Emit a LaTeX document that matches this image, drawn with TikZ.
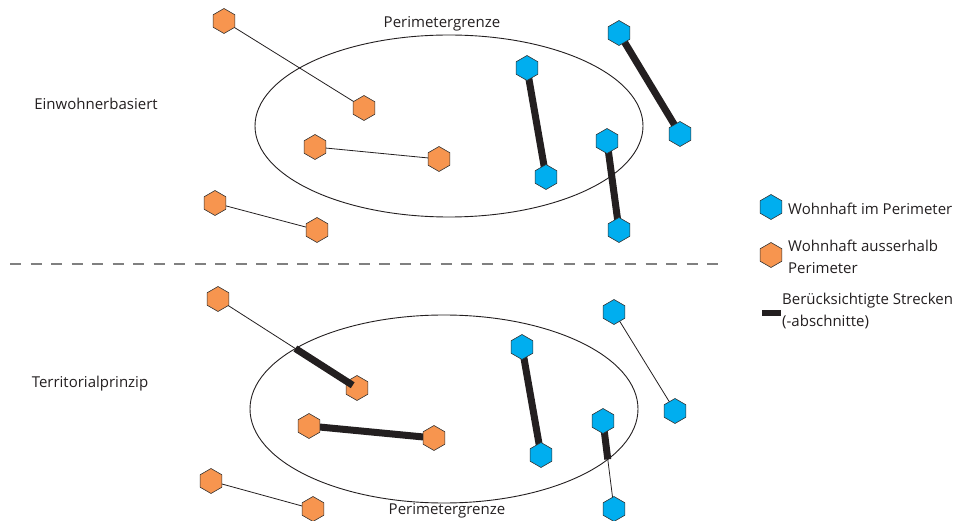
\documentclass[tikz,border=0pt]{standalone}
\usepackage{fontspec}
\setmainfont{Open Sans}
\usetikzlibrary{shapes.geometric,intersections,backgrounds,calc}
\definecolor{hexblue}{HTML}{00AEEF}
\definecolor{hexorange}{HTML}{F7954F}
\definecolor{hexedge}{HTML}{333333}
\definecolor{barcol}{HTML}{231F20}
\tikzset{
  hexbase/.style={regular polygon, regular polygon sides=6, shape border rotate=30,
    minimum size=25pt, inner sep=0pt, draw=hexedge, line width=0.6pt},
  bluehex/.style={hexbase, fill=hexblue},
  orangehex/.style={hexbase, fill=hexorange},
  thinlink/.style={draw=barcol, line width=0.8pt},
  thicklink/.style={draw=barcol, line width=7pt},
  perim/.style={draw=barcol, line width=0.9pt},
  lbl/.style={font=\fontsize{15}{22}\selectfont, text=barcol, inner sep=0pt},
}
\begin{document}
\begin{tikzpicture}[x=1pt,y=-1pt]
\useasboundingbox (0,0) rectangle (970,521);

% ---------- top: Einwohnerbasiert ----------
\draw[perim, name path=ellA] (449,126) ellipse [x radius=194, y radius=91];
\node[lbl] (pgA) at (442,24) {Perimetergrenze};
\node[lbl] (einw) at (96,104) {Einwohnerbasiert};

\node[orangehex] (a1) at (224,21) {};
\node[orangehex] (a2) at (364,108) {};
\node[orangehex] (b1) at (315,147) {};
\node[orangehex] (b2) at (439,159) {};
\node[orangehex] (c1) at (215,203) {};
\node[orangehex] (c2) at (317,230) {};
\node[bluehex] (d1) at (527,68) {};
\node[bluehex] (d2) at (546,177) {};
\node[bluehex] (e1) at (619,33) {};
\node[bluehex] (e2) at (680,134) {};
\node[bluehex] (f1) at (607,141) {};
\node[bluehex] (f2) at (619,230) {};

\begin{pgfonlayer}{background}
\draw[thinlink] (a1.center) -- (a2.center);
\draw[thinlink] (b1.center) -- (b2.center);
\draw[thinlink] (c1.center) -- (c2.center);
\draw[thicklink] (d1.center) -- (d2.center);
\draw[thicklink] (e1.center) -- (e2.center);
\draw[thicklink] (f1.center) -- (f2.center);
\end{pgfonlayer}

% ---------- separator ----------
\coordinate (sepL) at (10,264);
\coordinate (sepR) at (725,264);
\draw[draw=black!50, line width=2.6pt, dash pattern=on 11pt off 9.5pt] (sepL) -- (sepR);

% ---------- bottom: Territorialprinzip ----------
\draw[perim, name path=ellB] (444,409) ellipse [x radius=194, y radius=94];
\node[lbl] (pgB) at (447,511) {Perimetergrenze};
\node[lbl] (terr) at (90,384) {Territorialprinzip};

\node[orangehex] (g1) at (218,299) {};
\node[orangehex] (g2) at (357,388) {};
\node[orangehex] (h1) at (309,426) {};
\node[orangehex] (h2) at (434,438) {};
\node[orangehex] (i1) at (211,481) {};
\node[orangehex] (i2) at (313,509) {};
\node[bluehex] (j1) at (522,347) {};
\node[bluehex] (j2) at (541,455) {};
\node[bluehex] (k1) at (614,312) {};
\node[bluehex] (k2) at (675,411) {};
\node[bluehex] (l1) at (603,421) {};
\node[bluehex] (l2) at (614,509) {};

\path[name path=gline] (g1.center) -- (g2.center);
\path[name path=lline] (l1.center) -- (l2.center);
\path[name intersections={of=ellB and gline, by=gx}];
\path[name intersections={of=ellB and lline, by=lx}];

\begin{pgfonlayer}{background}
\draw[thinlink] (g1.center) -- (gx);
\draw[thicklink] (h1.center) -- (h2.center);
\draw[thinlink] (i1.center) -- (i2.center);
\draw[thicklink] (j1.center) -- (j2.center);
\draw[thinlink] (k1.center) -- (k2.center);
\draw[thicklink] (l1.center) -- (lx);
\draw[thinlink] (lx) -- (l2.center);
\end{pgfonlayer}
\draw[thicklink] (gx) -- ($(gx)!0.93!(g2.center)$);

% ---------- legend ----------
\node[bluehex] (legB) at (771,207) {};
\node[lbl, anchor=west] (legBt) at (788,209) {Wohnhaft im Perimeter};
\node[orangehex] (legO) at (771,255) {};
\node[lbl, anchor=west, align=left] (legOt) at (788,257) {Wohnhaft ausserhalb\\Perimeter};
\coordinate (barL) at (762,313);
\coordinate (barR) at (781,313);
\draw[draw=barcol, line width=6pt] (barL) -- (barR);
\node[lbl, anchor=west, align=left] (legSt) at (782,311) {Berücksichtigte Strecken\\(-abschnitte)};
\end{tikzpicture}
\end{document}
